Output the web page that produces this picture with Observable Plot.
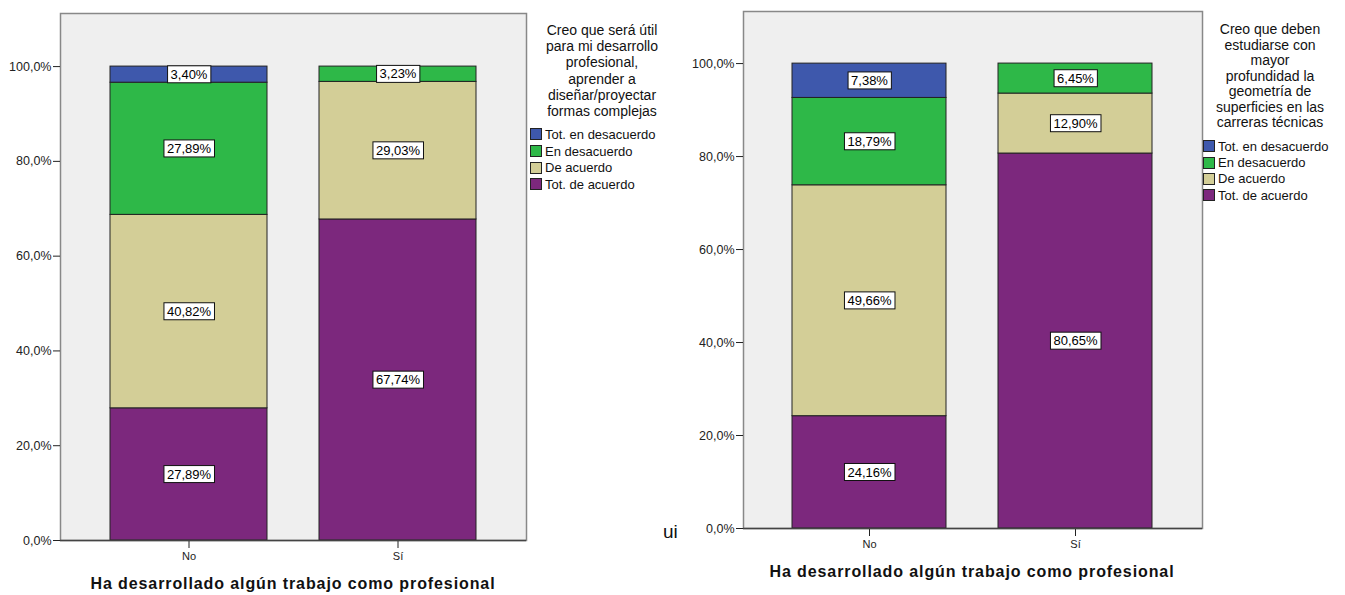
<!DOCTYPE html>
<html><head><meta charset="utf-8">
<script src="https://cdn.jsdelivr.net/npm/d3@7"></script>
<script src="https://cdn.jsdelivr.net/npm/@observablehq/plot@0.6"></script>
<style>
body{margin:0;background:#fff;font-family:"Liberation Sans",Arial,sans-serif;color:#111;}
#wrap{position:relative;width:1345px;height:595px;overflow:hidden;background:#fff;}
.chart{position:absolute;top:0;}
.ltitle{position:absolute;text-align:center;font-size:14px;line-height:16px;color:#111;}
.litems{position:absolute;font-size:13px;color:#111;}
.litem{display:flex;align-items:center;height:16.5px;}
.sw{width:10px;height:10px;border:1px solid #222;margin-right:3px;}
.xtitle{position:absolute;font-weight:bold;font-size:16px;letter-spacing:0.9px;text-align:center;white-space:nowrap;color:#111;}
</style></head><body><div id="wrap"></div>
<script>
// ---- data ----
const groups = ["No", "Sí"];
const categories = ["Tot. de acuerdo", "De acuerdo", "En desacuerdo", "Tot. en desacuerdo"]; // bottom -> top
const legendOrder = ["Tot. en desacuerdo", "En desacuerdo", "De acuerdo", "Tot. de acuerdo"];
const colors = ["#7c287d", "#d3ce97", "#2eb848", "#3e58ac"];
const chart1No = [27.89, 40.82, 27.89, 3.40];
const chart1Si = [67.74, 29.03, 3.23, 0];
const chart2No = [24.16, 49.66, 18.79, 7.38];
const chart2Si = [80.65, 12.90, 6.45, 0];
const yTicks = [0, 20, 40, 60, 80, 100];
const xTitle = "Ha desarrollado algún trabajo como profesional";
const title1 = ["Creo que será útil", "para mi desarrollo", "profesional,", "aprender a", "diseñar/proyectar", "formas complejas"];
const title2 = ["Creo que deben", "estudiarse con", "mayor", "profundidad la", "geometría de", "superficies en las", "carreras técnicas"];

const wrap = document.getElementById("wrap");
const tickFmt = d => d.toFixed(1).replace(".", ",") + "%";
const valFmt = d => d.toFixed(2).replace(".", ",") + "%";
const colorOf = c => colors[categories.indexOf(c)];

function makeChart(noVals, siVals, o) {
  const data = [];
  groups.forEach((g, gi) => categories.forEach((c, ci) =>
    data.push({group: g, cat: c, value: (gi ? siVals : noVals)[ci]})));
  const plot = Plot.plot({
    width: o.width, height: 595,
    marginLeft: o.ml, marginRight: o.mr, marginTop: o.mt, marginBottom: o.mb,
    style: {fontFamily: '"Liberation Sans", Arial, sans-serif', fontSize: "12px", color: "#222", background: "transparent", overflow: "visible"},
    x: {domain: groups, paddingInner: o.pi, paddingOuter: o.po, label: null, line: true},
    y: {domain: [0, 111.2], ticks: yTicks, tickFormat: tickFmt, label: null, line: true},
    color: {domain: categories, range: colors},
    marks: [
      Plot.frame({fill: "#efefef", stroke: "#888", strokeWidth: 1.5}),
      Plot.barY(data, {x: "group", y: "value", fill: "cat", stroke: "#222", strokeWidth: 1}),
      Plot.text(data.filter(d => d.value > 0), Plot.stackY({x: "group", y: "value", z: "cat", text: d => valFmt(d.value), fill: "#000", fontSize: 13})),
      Plot.axisX({tickSize: 8, fontSize: 11, tickPadding: 4, label: null}),
      Plot.axisY({ticks: yTicks, tickFormat: tickFmt, tickSize: 7, tickPadding: 2, fontSize: 12.5, label: null}),
      Plot.ruleY([0], {stroke: "#444", strokeWidth: 1.5})
    ]
  });
  plot.classList.add("chart");
  plot.style.left = o.left + "px";
  wrap.appendChild(plot);
  // white label boxes behind value labels
  const texts = plot.querySelectorAll('g[aria-label="text"] text');
  texts.forEach(t => {
    const b = t.getBBox();
    const r = document.createElementNS("http://www.w3.org/2000/svg", "rect");
    r.setAttribute("x", b.x - 3);
    r.setAttribute("y", b.y + b.height / 2 - 8.5);
    r.setAttribute("width", b.width + 6);
    r.setAttribute("height", 17);
    r.setAttribute("fill", "#fff");
    r.setAttribute("stroke", "#111");
    r.setAttribute("stroke-width", 1);
    const tr = t.getAttribute("transform");
    if (tr) r.setAttribute("transform", tr);
    t.parentNode.insertBefore(r, t);
  });
  return plot;
}

makeChart(chart1No, chart1Si, {left: 0, width: 530, ml: 60, mr: 4, mt: 13, mb: 55, pi: 0.249, po: 0.239});
makeChart(chart2No, chart2Si, {left: 660, width: 545, ml: 83, mr: 3, mt: 11, mb: 67, pi: 0.252, po: 0.240});

function legend(lines, left, width, top, lh, itemsTop, itemsLeft, itemH) {
  const t = document.createElement("div");
  t.className = "ltitle";
  t.style.left = left + "px"; t.style.width = width + "px"; t.style.top = top + "px";
  t.style.lineHeight = lh + "px";
  t.innerHTML = lines.join("<br>");
  wrap.appendChild(t);
  const it = document.createElement("div");
  it.className = "litems";
  it.style.left = itemsLeft + "px"; it.style.top = itemsTop + "px";
  legendOrder.forEach(c => {
    const row = document.createElement("div");
    row.className = "litem"; row.style.height = itemH + "px";
    const sw = document.createElement("div");
    sw.className = "sw"; sw.style.background = colorOf(c);
    const lab = document.createElement("span"); lab.textContent = c;
    row.appendChild(sw); row.appendChild(lab);
    it.appendChild(row);
  });
  wrap.appendChild(it);
}
legend(title1, 528, 148, 22, 16.2, 126, 530, 16.7);
legend(title2, 1204, 132, 22, 15.5, 138, 1203, 16.4);

function xt(text, cx, cy) {
  const d = document.createElement("div");
  d.className = "xtitle"; d.textContent = text;
  wrap.appendChild(d);
  const w = d.getBoundingClientRect().width;
  d.style.left = (cx - w / 2) + "px"; d.style.top = (cy - 10) + "px";
}
xt(xTitle, 293, 585);
xt(xTitle, 972, 573);

// stray fragment visible in the reference
const frag = document.createElement("div");
frag.style.cssText = "position:absolute;left:663px;top:521px;font-size:19px;color:#111;";
frag.textContent = "ui";
wrap.appendChild(frag);
</script>
</body></html>
